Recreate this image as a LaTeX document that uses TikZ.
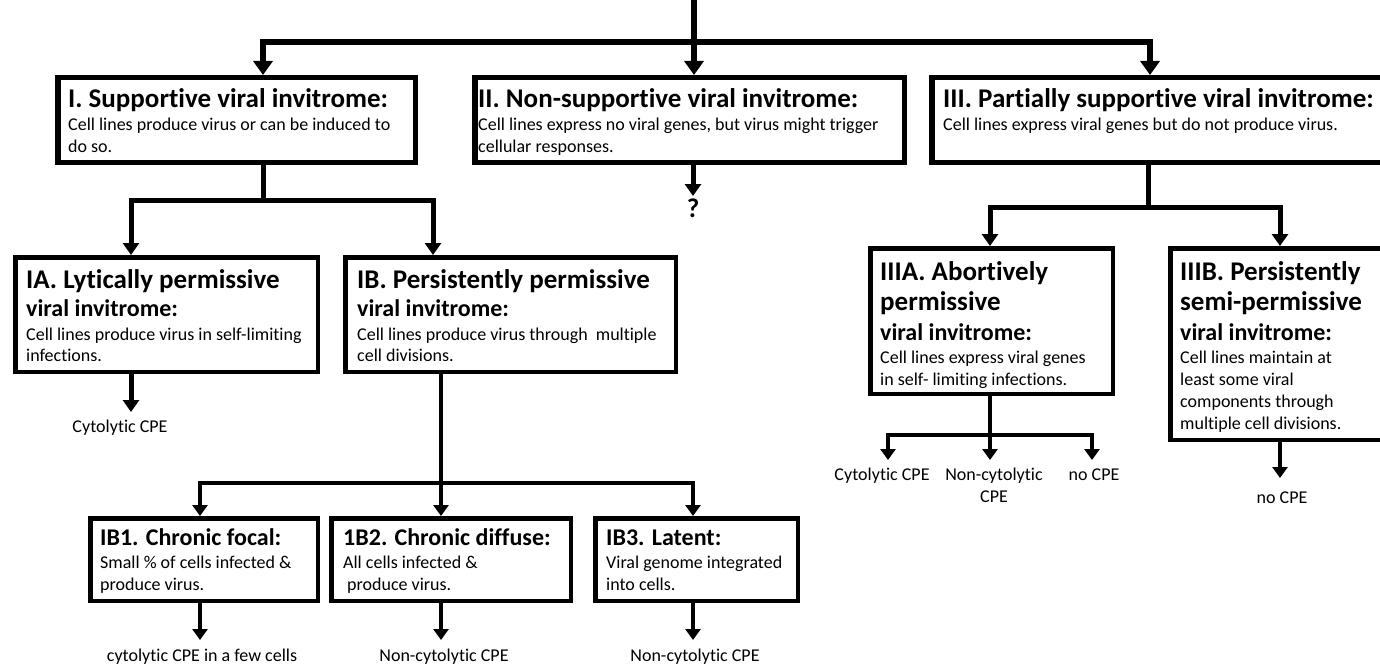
\documentclass[tikz,border=0pt]{standalone}
\usepackage{fontspec}
\setmainfont{Carlito}[Ligatures=NoCommon]
\usetikzlibrary{arrows.meta}
\tikzset{
  bxA/.style={draw, line width=5.5pt, inner sep=0, line join=miter},
  bxB/.style={draw, line width=4.5pt, inner sep=0, line join=miter},
  tA/.style={anchor=base west, inner sep=0, font=\fontsize{27}{32}\selectfont\bfseries},
  tB/.style={anchor=base west, inner sep=0, font=\fontsize{24}{29}\selectfont\bfseries},
  tC/.style={anchor=base west, inner sep=0, font=\fontsize{18}{22}\selectfont},
  lab/.style={anchor=base, inner sep=0, font=\fontsize{18}{22}\selectfont},
  c1/.style={line width=6.5pt, line join=miter},
  c2/.style={line width=5pt, line join=miter},
  c3/.style={line width=4.5pt, line join=miter},
  a1/.style={-{Triangle[width=19pt,length=14pt]}},
  a1b/.style={{Triangle[width=19pt,length=14pt]}-{Triangle[width=19pt,length=14pt]}},
  a2/.style={-{Triangle[width=16pt,length=12pt]}},
  a2b/.style={{Triangle[width=16pt,length=12pt]}-{Triangle[width=16pt,length=12pt]}},
  a3/.style={-{Triangle[width=15pt,length=11pt]}},
  a3b/.style={{Triangle[width=15pt,length=11pt]}-{Triangle[width=15pt,length=11pt]}},
}
\begin{document}
\begin{tikzpicture}[x=1pt,y=-1pt]
\useasboundingbox[fill=white] (0,0) rectangle (1380,666);

% ---------- boxes ----------
\node[bxA, minimum width=357.5pt, minimum height=84.5pt] (I)   at (236.5,120) {};
\node[bxA, minimum width=429.5pt, minimum height=84.5pt] (II)  at (689.5,120) {};
\node[bxA, minimum width=457.5pt, minimum height=84.5pt] (III) at (1160.5,120) {};
\node[bxB, minimum width=302.5pt, minimum height=114.5pt] (IA) at (166.5,314.5) {};
\node[bxB, minimum width=330.5pt, minimum height=114.5pt] (IB) at (510.5,314.5) {};
\node[bxB, minimum width=227.5pt, minimum height=82.5pt] (IBa) at (204,559.5) {};
\node[bxB, minimum width=239.5pt, minimum height=82.5pt] (IBb) at (451,559.5) {};
\node[bxB, minimum width=202.5pt, minimum height=82.5pt] (IBc) at (696.5,559.5) {};
\node[bxB, minimum width=242.5pt, minimum height=145.5pt] (IIIA) at (991.5,321) {};
\node[bxB, minimum width=219.5pt, minimum height=191.5pt] (IIIB) at (1280,344) {};

% ---------- box texts ----------
\node[tA] (I1) at (68,107) {I. Supportive viral invitrome:};
\node[tC] (I2) at (68,130) {Cell lines produce virus or can be induced to};
\node[tC] (I3) at (68,152) {do so.};

\node[tA] (II1) at (478,107) {II. Non-supportive viral invitrome:};
\node[tC] (II2) at (478,130) {Cell lines express no viral genes, but virus might trigger};
\node[tC] (II3) at (478,152) {cellular responses.};

\node[tA] (III1) at (943,107) {III. Partially supportive viral invitrome:};
\node[tC] (III2) at (943,130) {Cell lines express viral genes but do not produce virus.};

\node[tA] (IA1) at (26,288) {IA. Lytically permissive};
\node[tB] (IA2) at (26,316) {viral invitrome:};
\node[tC] (IA3) at (26,340) {Cell lines produce virus in self-limiting};
\node[tC] (IA4) at (26,361) {infections.};

\node[tA] (IB1t) at (357,288) {IB. Persistently permissive};
\node[tB] (IB2t) at (357,316) {viral invitrome:};
\node[tC] (IB3t) at (357,340) {Cell lines produce virus through\ \ multiple};
\node[tC] (IB4t) at (357,361) {cell divisions.};

\node[tA] (IIIA1) at (880,280) {IIIA. Abortively};
\node[tA] (IIIA2) at (880,310) {permissive};
\node[tB] (IIIA3) at (880,340) {viral invitrome:};
\node[tC] (IIIA4) at (880,363) {Cell lines express viral genes};
\node[tC] (IIIA5) at (880,385) {in self- limiting infections.};

\node[tA] (IIIB1) at (1180,280) {IIIB. Persistently};
\node[tA] (IIIB2) at (1180,310) {semi-permissive};
\node[tB] (IIIB3) at (1180,340) {viral invitrome:};
\node[tC] (IIIB4) at (1180,363) {Cell lines maintain at};
\node[tC] (IIIB5) at (1180,385) {least some viral};
\node[tC] (IIIB6) at (1180,407) {components through};
\node[tC] (IIIB7) at (1180,429) {multiple cell divisions.};

\node[tB] (Ba1) at (100,545) {IB1. Chronic focal:};
\node[tC] (Ba2) at (100,568) {Small \% of cells infected \&};
\node[tC] (Ba3) at (100,590) {produce virus.};

\node[tB] (Bb1) at (343,545) {1B2. Chronic diffuse:};
\node[tC] (Bb2) at (343,568) {All cells infected \&};
\node[tC] (Bb3) at (347,590) {produce virus.};

\node[tB] (Bc1) at (606,545) {IB3. Latent:};
\node[tC] (Bc2) at (606,568) {Viral genome integrated};
\node[tC] (Bc3) at (606,590) {into cells.};

% ---------- outcome labels ----------
\node[lab, font=\fontsize{27}{32}\selectfont\bfseries] (qm) at (693,217) {?};
\node[lab] (LIA) at (120,432) {Cytolytic CPE};
\node[lab] (L1) at (202,661) {cytolytic CPE in a few cells};
\node[lab] (L2) at (444,661) {Non-cytolytic CPE};
\node[lab] (L3) at (695,661) {Non-cytolytic CPE};
\node[lab] (LA1) at (882,480) {Cytolytic CPE};
\node[lab] (LA2) at (994,480) {Non-cytolytic};
\node[lab] (LA2b) at (994,502) {CPE};
\node[lab] (LA3) at (1094,480) {no CPE};
\node[lab] (LB) at (1282,503) {no CPE};

% ---------- connectors ----------
\coordinate (top) at (694,0);
\coordinate (jL) at (263,42);
\coordinate (jR) at (1150,42);
\draw[c1, a1b] (I.north -| jL) -- (jL) -- (jR) -- (III.north -| jR);
\draw[c1, a1] (top) -- (II.north -| top);

\coordinate (eq) at (693,196);
\draw[c2, a2] (II.south -| eq) -- (eq);

\coordinate (s1) at (263,200);
\coordinate (s1a) at (131,200);
\coordinate (s1b) at (433,200);
\draw[c2] (I.south -| s1) -- (s1);
\draw[c2, a2b] (IA.north -| s1a) -- (s1a) -- (s1b) -- (IB.north -| s1b);

\coordinate (ea) at (131,412);
\draw[c2, a2] (IA.south -| ea) -- (ea);

\coordinate (s2) at (441,483);
\coordinate (s2a) at (200,483);
\coordinate (s2c) at (693,483);
\draw[c3] (IB.south -| s2) -- (s2);
\draw[c3, a3b] (IBa.north -| s2a) -- (s2a) -- (s2c) -- (IBc.north -| s2c);
\draw[c3, a3] (s2) -- (IBb.north -| s2);

\coordinate (e1) at (200,640);
\coordinate (e2) at (441,640);
\coordinate (e3) at (693,640);
\draw[c3, a3] (IBa.south -| e1) -- (e1);
\draw[c3, a3] (IBb.south -| e2) -- (e2);
\draw[c3, a3] (IBc.south -| e3) -- (e3);

\coordinate (s3) at (1148,207);
\coordinate (s3a) at (990,207);
\coordinate (s3b) at (1280,207);
\draw[c2] (III.south -| s3) -- (s3);
\draw[c2, a2b] (IIIA.north -| s3a) -- (s3a) -- (s3b) -- (IIIB.north -| s3b);

\coordinate (s4) at (990,435);
\coordinate (s4a) at (888,435);
\coordinate (s4c) at (1092,435);
\coordinate (f1) at (888,460);
\coordinate (f2) at (990,460);
\coordinate (f3) at (1092,460);
\draw[c3] (IIIA.south -| s4) -- (s4);
\draw[c3, a3b] (f1) -- (s4a) -- (s4c) -- (f3);
\draw[c3, a3] (s4) -- (f2);

\coordinate (fb) at (1280,478);
\draw[c3, a3] (IIIB.south -| fb) -- (fb);
\end{tikzpicture}
\end{document}
